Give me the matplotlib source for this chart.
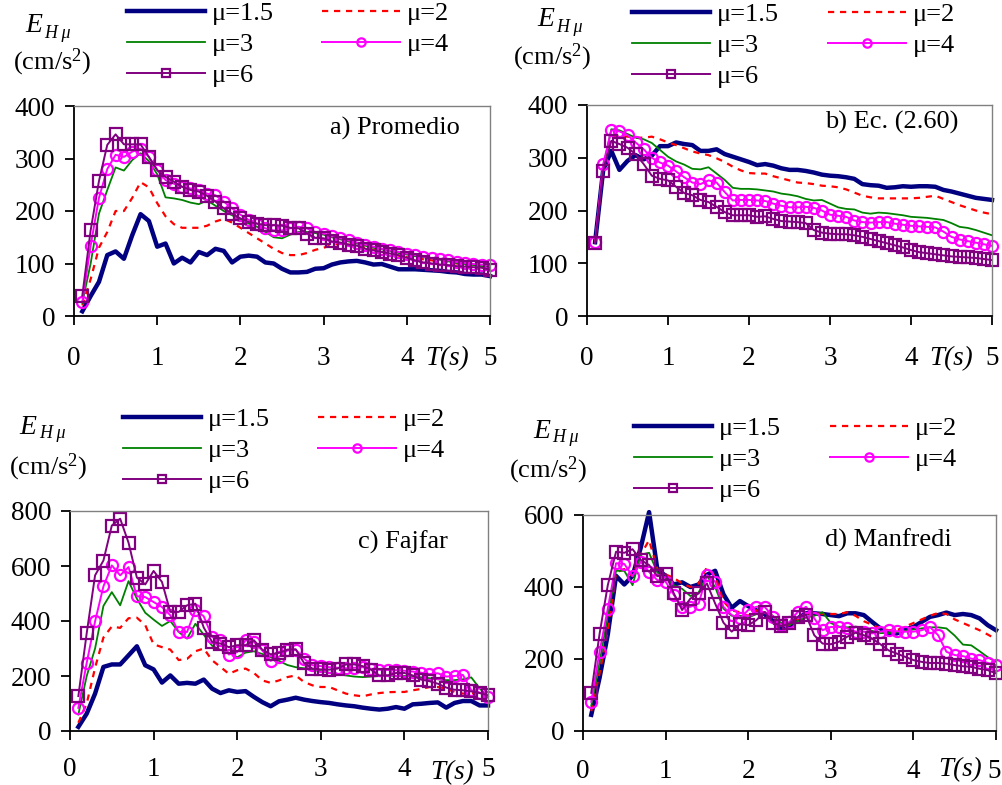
import matplotlib
matplotlib.use("Agg")
import matplotlib.pyplot as plt
import numpy as np
import matplotlib.transforms as mtransforms

plt.rcParams['font.family'] = ['Liberation Serif', 'DejaVu Serif']
plt.rcParams['mathtext.fontset'] = 'custom'
plt.rcParams['mathtext.rm'] = 'Liberation Serif'
plt.rcParams['mathtext.it'] = 'Liberation Serif:italic'

T = [round(0.1 * i, 1) for i in range(1, 51)]
mu_labels = ["μ=1.5", "μ=2", "μ=3", "μ=4", "μ=6"]

# a) Promedio
a15 = [9, 38, 65, 116, 123, 109, 154, 194, 181, 132, 138, 100, 111, 102, 122, 116, 128, 124, 102, 113,
       115, 113, 102, 100, 90, 83, 83, 84, 90, 91, 98, 102, 104, 105, 102, 98, 99, 94, 89, 89,
       89, 88, 87, 86, 84, 83, 80, 79, 79, 76]
a2 = [20, 70, 130, 160, 200, 200, 225, 255, 245, 215, 190, 175, 168, 168, 168, 172, 180, 185, 178, 168,
      158, 148, 138, 128, 120, 116, 116, 120, 126, 130, 135, 138, 136, 134, 130, 126, 122, 118, 115, 112,
      110, 108, 106, 104, 102, 100, 97, 95, 93, 90]
a3 = [25, 100, 195, 240, 283, 277, 297, 310, 295, 270, 226, 224, 221, 216, 213, 220, 210, 200, 192, 183,
      176, 170, 160, 150, 148, 155, 160, 160, 158, 155, 150, 146, 142, 138, 134, 130, 127, 124, 120, 117,
      114, 112, 110, 107, 104, 101, 99, 97, 95, 93]
a4 = [27, 134, 225, 280, 307, 303, 313, 319, 303, 278, 259, 252, 246, 243, 240, 233, 230, 218, 205, 193,
      183, 176, 167, 163, 163, 167, 170, 167, 160, 157, 152, 148, 144, 140, 136, 132, 128, 125, 122, 119,
      116, 113, 110, 108, 106, 103, 101, 99, 98, 97]
a6 = [39, 163, 257, 326, 346, 327, 327, 327, 303, 278, 265, 256, 246, 240, 237, 229, 218, 205, 195, 186,
      179, 176, 173, 173, 172, 168, 167, 157, 149, 148, 142, 140, 136, 134, 128, 125, 122, 119, 116, 111,
      106, 102, 100, 98, 97, 95, 94, 93, 92, 88]

# b) Ec. (2.60)
b15 = [140, 277, 313, 277, 294, 305, 297, 304, 322, 322, 329, 326, 324, 313, 313, 316, 307, 302, 297, 292,
       286, 288, 285, 280, 277, 277, 275, 272, 268, 266, 265, 263, 260, 250, 248, 247, 243, 244, 246, 245,
       246, 246, 245, 239, 236, 232, 228, 224, 222, 220]
b2 = [140, 282, 340, 342, 340, 338, 338, 340, 335, 329, 324, 318, 312, 308, 305, 299, 292, 283, 276, 271,
      270, 270, 265, 261, 257, 253, 252, 250, 247, 246, 244, 240, 234, 228, 225, 223, 223, 223, 223, 223,
      224, 226, 228, 222, 216, 210, 205, 200, 196, 193]
b3 = [140, 282, 354, 352, 345, 338, 335, 328, 315, 302, 293, 287, 279, 278, 282, 270, 258, 243, 241, 241,
      240, 238, 236, 232, 230, 227, 222, 219, 220, 213, 206, 203, 202, 196, 194, 196, 195, 193, 191, 188,
      187, 186, 184, 182, 176, 169, 167, 163, 158, 153]
b4 = [140, 288, 352, 350, 343, 329, 316, 300, 291, 285, 274, 263, 253, 250, 257, 253, 235, 219, 220, 220,
      219, 218, 213, 209, 206, 206, 207, 205, 200, 192, 190, 188, 181, 178, 177, 178, 178, 175, 173, 171,
      170, 169, 168, 160, 150, 145, 142, 139, 136, 133]
b6 = [138, 275, 332, 326, 319, 307, 288, 266, 260, 257, 245, 233, 229, 220, 216, 207, 197, 191, 191, 191,
      188, 189, 184, 180, 179, 178, 176, 163, 158, 156, 155, 155, 153, 150, 146, 142, 138, 134, 130, 125,
      121, 119, 117, 115, 113, 112, 111, 110, 108, 106]

# c) Fajfar
c15 = [15, 63, 136, 233, 242, 242, 275, 308, 239, 224, 176, 202, 172, 175, 172, 187, 154, 138, 148, 142,
       145, 124, 105, 90, 108, 114, 121, 114, 109, 105, 102, 97, 93, 90, 85, 81, 78, 81, 87, 81,
       97, 99, 102, 104, 85, 102, 109, 109, 93, 93]
c2 = [30, 100, 230, 340, 380, 375, 410, 412, 385, 315, 305, 296, 258, 262, 290, 300, 257, 233, 208, 221,
      227, 211, 184, 175, 184, 196, 202, 178, 166, 160, 160, 148, 136, 130, 126, 133, 138, 141, 142, 142,
      148, 153, 160, 160, 154, 142, 136, 138, 133, 121]
c3 = [60, 200, 300, 455, 505, 457, 545, 481, 430, 405, 382, 400, 360, 336, 390, 350, 310, 295, 285, 268,
      285, 290, 280, 268, 255, 240, 232, 228, 222, 218, 212, 208, 202, 198, 196, 198, 200, 202, 200, 200,
      198, 195, 192, 188, 185, 185, 188, 195, 155, 125]
c4 = [84, 248, 399, 526, 602, 566, 596, 490, 487, 469, 451, 421, 360, 360, 440, 417, 342, 330, 278, 287,
      330, 324, 293, 255, 270, 293, 296, 263, 239, 236, 232, 230, 228, 230, 232, 226, 223, 222, 221, 219,
      216, 212, 207, 210, 198, 200, 204, 148, 140, 125]
c6 = [127, 356, 566, 620, 747, 772, 685, 558, 533, 582, 542, 433, 433, 457, 463, 376, 324, 318, 305, 312,
      312, 330, 296, 279, 284, 296, 297, 247, 227, 224, 223, 227, 242, 242, 236, 223, 202, 202, 211, 211,
      202, 187, 181, 172, 158, 150, 148, 144, 138, 130]

# d) Manfredi
d15 = [45, 147, 268, 431, 407, 431, 510, 608, 449, 431, 407, 413, 400, 407, 434, 445, 380, 342, 361, 347,
       335, 324, 305, 282, 291, 313, 327, 327, 325, 322, 319, 327, 327, 322, 303, 285, 271, 271, 282, 289,
       303, 317, 322, 329, 322, 325, 322, 313, 294, 280]
d2 = [55, 160, 280, 440, 450, 430, 490, 530, 450, 435, 425, 410, 400, 410, 455, 430, 360, 335, 330, 320,
      335, 330, 320, 295, 295, 310, 325, 330, 325, 325, 325, 330, 320, 305, 295, 285, 280, 280, 290, 300,
      310, 320, 328, 325, 310, 300, 290, 280, 268, 255]
d3 = [70, 190, 320, 445, 445, 405, 490, 495, 440, 425, 405, 395, 375, 385, 430, 400, 340, 320, 320, 315,
      325, 330, 320, 300, 295, 305, 315, 320, 330, 300, 290, 288, 290, 285, 278, 272, 272, 275, 278, 282,
      285, 288, 288, 285, 265, 240, 238, 222, 205, 192]
d4 = [81, 220, 340, 466, 464, 430, 470, 442, 419, 415, 378, 345, 345, 354, 433, 415, 345, 322, 313, 336,
      345, 345, 317, 294, 303, 331, 345, 313, 280, 289, 289, 285, 276, 276, 271, 276, 280, 277, 276, 276,
      280, 289, 266, 220, 211, 208, 201, 197, 189, 183]
d6 = [106, 269, 405, 498, 495, 505, 475, 461, 430, 436, 382, 336, 368, 382, 410, 354, 301, 276, 297, 294,
      308, 331, 301, 291, 299, 317, 322, 266, 243, 241, 248, 262, 273, 266, 257, 241, 224, 215, 206, 197,
      192, 189, 189, 187, 183, 180, 178, 173, 169, 160]

panel_titles = ["a) Promedio", "b) Ec. (2.60)", "c) Fajfar", "d) Manfredi"]
panel_series = [[a15, a2, a3, a4, a6], [b15, b2, b3, b4, b6],
                [c15, c2, c3, c4, c6], [d15, d2, d3, d4, d6]]
panel_ymax = [400, 400, 800, 600]
panel_ystep = [100, 100, 200, 200]

W, H = 1003, 785
fig = plt.figure(figsize=(W / 100, H / 100), dpi=100)


def fx(x):
    return x / W


def fy(y):
    return 1 - y / H


# axes rectangles in pixels: left, right, top, bottom
rects = [(74, 490, 106, 316), (587, 992, 105, 316), (70, 488, 511, 731), (583, 996, 515, 731)]
title_pos = [(0.928, 0.895), (0.916, 0.915), (0.904, 0.859), (0.894, 0.884)]
leg_pos = [(127, 322, 14), (632, 828, 15), (123, 318, 420), (634, 830, 429)]
elab_pos = [(25, 25, 44, 33, 52, 62), (537, 20, 556, 27, 552, 57),
            (19, 427, 39, 433, 48, 467), (533, 432, 552, 438, 548, 470)]
ts_pos = [4.48, 4.49, 4.57, 4.56]
x_pad = [15, 15, 12.5, 13.5]
ts_y = [-0.235, -0.235, -0.218, -0.21]

styles = [dict(color='#000080', lw=3.2, ls='-'),
          dict(color='#FF0000', lw=1.6, ls=(0, (2.8, 2.6))),
          dict(color='#008000', lw=1.3, ls='-'),
          dict(color='#FF00FF', lw=1.4, ls='-', marker='o', ms=8, mfc='none', mew=1.6),
          dict(color='#800080', lw=1.4, ls='-', marker='s', ms=8, mfc='none', mew=1.6)]

FS_TICK = 19.5
FS_LEG = 19

for k in range(4):
    l, r, t, b = rects[k]
    ax = fig.add_axes([fx(l), fy(b), (r - l) / W, (b - t) / H])
    handles = []
    for s, data in enumerate(panel_series[k]):
        ln, = ax.plot(T, data, label=mu_labels[s], clip_on=False, **styles[s])
        handles.append(ln)
    ax.set_xlim(0, 5)
    ax.set_ylim(0, panel_ymax[k])
    ax.set_xticks(range(0, 6))
    ax.set_yticks(np.arange(0, panel_ymax[k] + 1, panel_ystep[k]))
    for sp in ['left', 'bottom']:
        ax.spines[sp].set_color('black')
        ax.spines[sp].set_linewidth(1.3)
    for sp in ['top', 'right']:
        ax.spines[sp].set_color('#808080')
        ax.spines[sp].set_linewidth(1.0)
    ax.tick_params(axis='both', direction='out', length=6.5, width=1.3, labelsize=FS_TICK, color='black')
    ax.tick_params(axis='y', pad=7)
    ax.tick_params(axis='x', pad=x_pad[k])
    if k == 3:
        lbl = ax.get_xticklabels()[-1]
        lbl.set_horizontalalignment('right')
        lbl.set_transform(lbl.get_transform() +
                          mtransforms.ScaledTranslation(0.05, 0, fig.dpi_scale_trans))
    ax.text(title_pos[k][0], title_pos[k][1], panel_titles[k], transform=ax.transAxes,
            ha='right', va='center', fontsize=19)
    trans = mtransforms.blended_transform_factory(ax.transData, ax.transAxes)
    ax.text(ts_pos[k], ts_y[k], 'T(s)', transform=trans, ha='center',
            va='baseline', fontsize=FS_TICK, style='italic')

    x1, x2, yrow = leg_pos[k]
    col1 = [handles[0], handles[2], handles[4]]
    col2 = [handles[1], handles[3]]
    for hx, hs in ((x1, col1), (x2, col2)):
        fig.legend(handles=hs, labels=[h.get_label() for h in hs], loc='upper left',
                   bbox_to_anchor=(fx(hx), fy(yrow - 12)), frameon=False, fontsize=FS_LEG,
                   handlelength=2.95, handletextpad=0.28, labelspacing=0.28, borderpad=0,
                   borderaxespad=0, numpoints=1, markerscale=0.75)

    ex, ey, hx_, hy_, cx, cy = elab_pos[k]
    fig.text(fx(ex), fy(ey), 'E', ha='left', va='center', fontsize=20, style='italic')
    fig.text(fx(hx_), fy(hy_), 'H μ', ha='left', va='center', fontsize=13, style='italic')
    fig.text(fx(cx), fy(cy), '(cm/s$^{2}$)', ha='center', va='center', fontsize=19)

fig.savefig('out.png', dpi=100)
